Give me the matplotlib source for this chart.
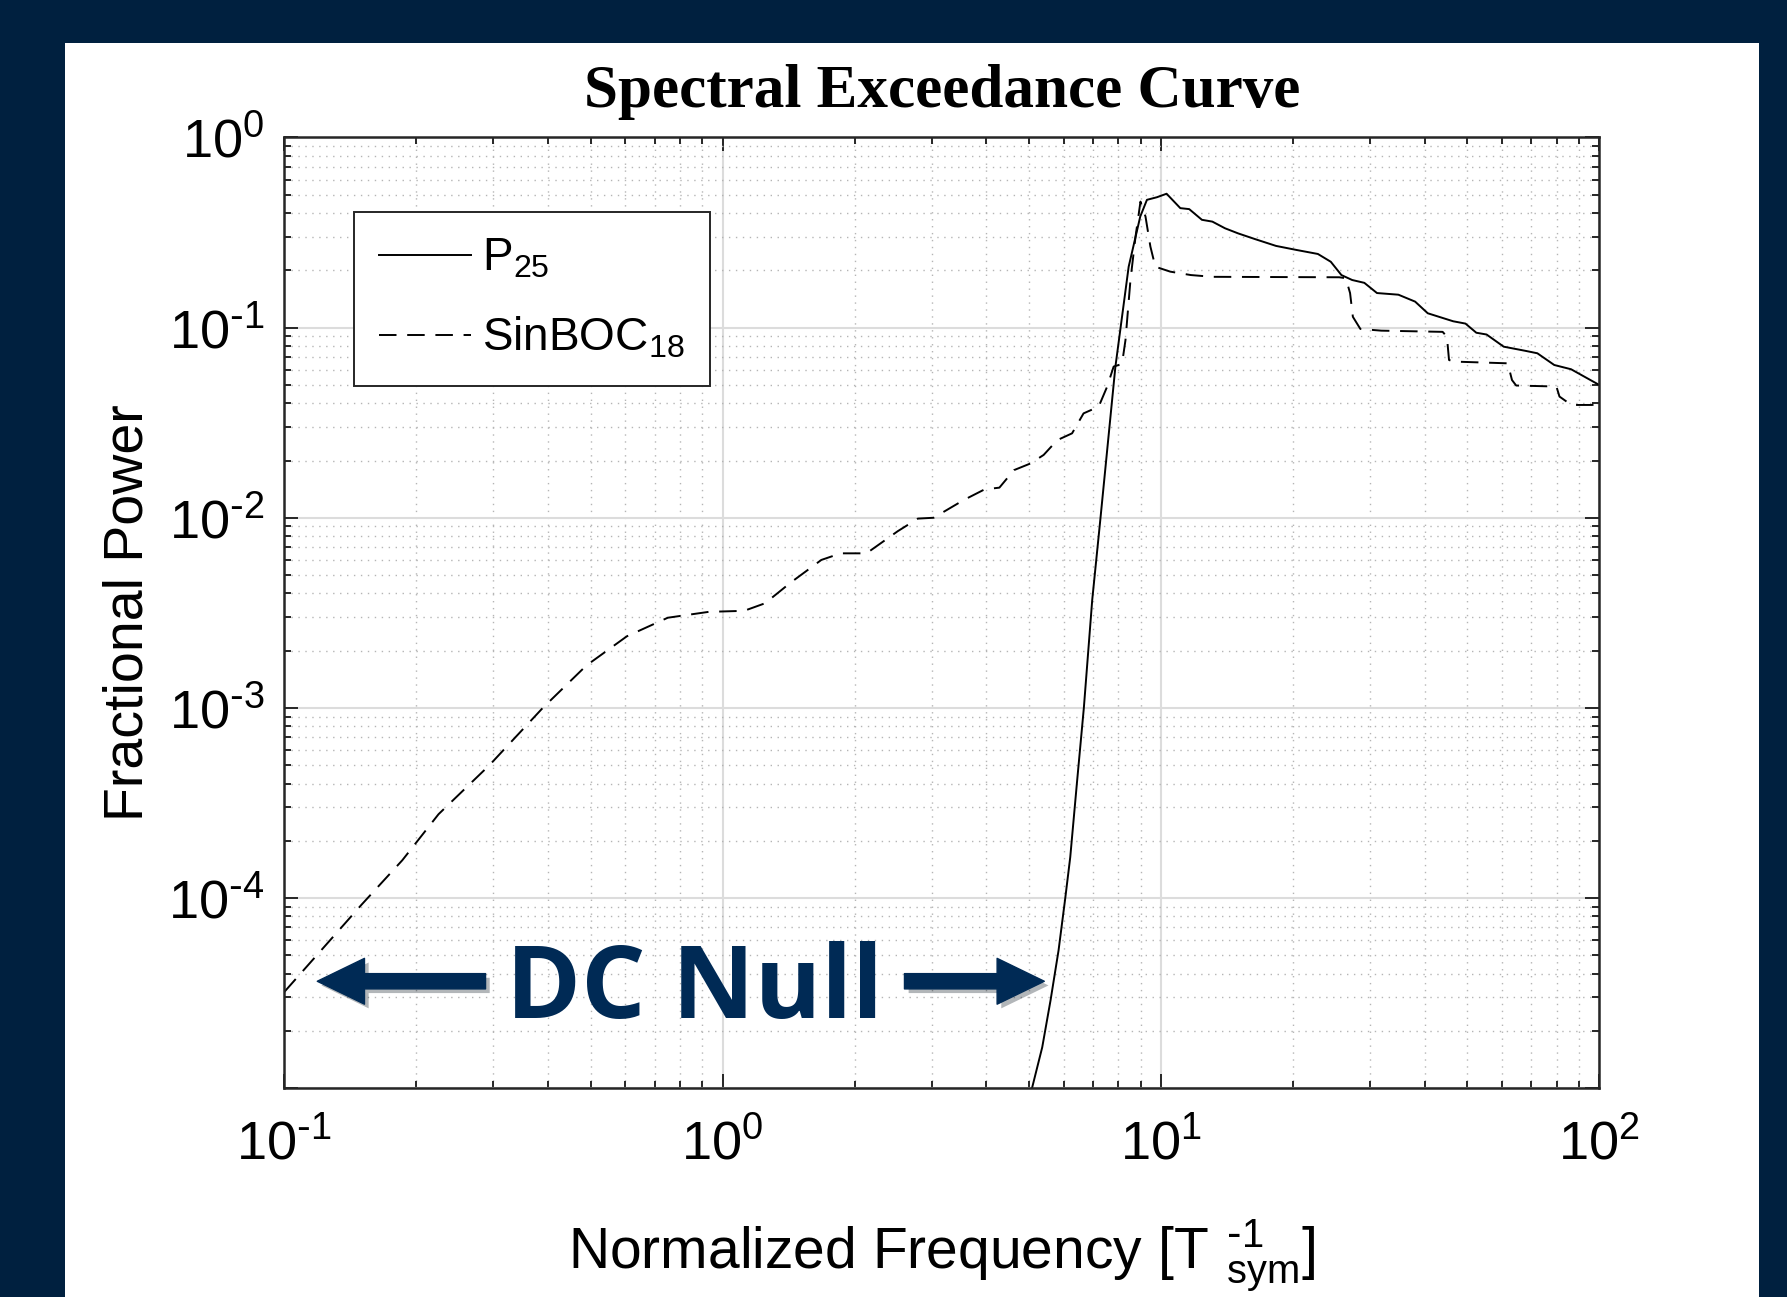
import numpy as np
import matplotlib
matplotlib.use("Agg")
import matplotlib.pyplot as plt
from matplotlib.patches import Rectangle
from matplotlib.ticker import FuncFormatter
import matplotlib.patheffects as pe

# P25 exceedance curve
p25_freq = [4.95, 5.08, 5.36, 5.60, 5.84, 6.05, 6.21, 6.43, 6.67, 6.97, 7.28, 7.87,
            8.44, 8.97, 9.29, 9.79, 10.3, 11.07, 11.6, 12.4, 13.1, 14.0, 15.0, 16.4,
            18.3, 20.4, 22.8, 24.4, 25.8, 27.3, 29.1, 31.1, 34.8, 38.0, 40.6, 46.4,
            49.5, 52.4, 55.3, 60.5, 67.6, 72.2, 78.9, 86.2, 100.0]
p25_power = [8e-6, 1.0e-5, 1.64e-5, 2.9e-5, 5.3e-5, 1.0e-4, 1.64e-4, 4.0e-4, 1.0e-3,
             3.7e-3, 1.0e-2, 6.2e-2, 0.209, 0.384, 0.47, 0.485, 0.506, 0.425, 0.42,
             0.369, 0.361, 0.333, 0.313, 0.292, 0.269, 0.256, 0.244, 0.222, 0.189,
             0.178, 0.172, 0.152, 0.149, 0.137, 0.119, 0.108, 0.105, 0.094, 0.092,
             0.0794, 0.0756, 0.0733, 0.0636, 0.0604, 0.0499]

# SinBOC18 exceedance curve
boc_freq = [0.1, 0.15, 0.186, 0.225, 0.294, 0.389, 0.489, 0.605, 0.75, 0.93, 1.12,
            1.25, 1.43, 1.68, 1.86, 2.13, 2.51, 2.79, 3.03, 3.55, 3.96, 4.28, 4.62,
            5.04, 5.40, 5.80, 6.27, 6.66, 7.21, 7.54, 7.80, 8.15, 8.30, 8.52, 8.75,
            8.98, 9.22, 9.46, 9.71, 10.5, 11.7, 13.1, 25.5, 26.4, 27.0, 27.4, 28.5,
            31.8, 43.9, 44.9, 45.4, 46.4, 61.8, 63.2, 64.6, 79.8, 81.1, 86.3, 96.3, 100.0]
boc_power = [3.2e-5, 9.2e-5, 1.58e-4, 2.76e-4, 5.0e-4, 1.0e-3, 1.67e-3, 2.38e-3,
             2.98e-3, 3.2e-3, 3.24e-3, 3.55e-3, 4.56e-3, 6.0e-3, 6.5e-3, 6.5e-3,
             8.5e-3, 9.9e-3, 1.0e-2, 1.24e-2, 1.41e-2, 1.44e-2, 1.78e-2, 1.93e-2,
             2.14e-2, 2.56e-2, 2.78e-2, 3.54e-2, 3.84e-2, 4.9e-2, 6.24e-2, 6.44e-2,
             8.6e-2, 0.178, 0.301, 0.46, 0.384, 0.267, 0.209, 0.197, 0.189, 0.185,
             0.184, 0.182, 0.152, 0.114, 0.0984, 0.0964, 0.095, 0.0897, 0.0676,
             0.0663, 0.0649, 0.053, 0.0496, 0.049, 0.0434, 0.0392, 0.0392, 0.040]

navy = '#002a55'
plt.rcParams['font.family'] = ['Liberation Sans', 'DejaVu Sans']


def pow_label(v, pos):
    e = int(round(np.log10(v)))
    if e == -5:
        return ''
    if e < 0:
        return r'$\mathdefault{10^{\text{-}%d}}$' % -e
    return r'$\mathdefault{10^{%d}}$' % e


fig = plt.figure(figsize=(17.87, 12.97), dpi=100, facecolor='#00203f')
fig.add_artist(Rectangle((65 / 1787, 0), (1759 - 65) / 1787, (1297 - 43) / 1297,
                         transform=fig.transFigure, facecolor='white',
                         edgecolor='none', zorder=-10))

ax = fig.add_axes([0.159, 0.161, 0.736, 0.733])
ax.set_xscale('log')
ax.set_yscale('log')

ax.plot(p25_freq, p25_power, color='black', lw=1.4, label=r'$\mathdefault{P_{25}}$')
ax.plot(boc_freq, boc_power, color='black', lw=1.4, ls=(0, (9, 5.5)),
        label=r'$\mathdefault{SinBOC_{18}}$')

ax.set_xlim(0.1, 100)
ax.set_ylim(1e-5, 1)
ax.xaxis.set_major_formatter(FuncFormatter(pow_label))
ax.yaxis.set_major_formatter(FuncFormatter(pow_label))

ax.grid(which='major', color='#dcdcdc', lw=1.5, ls='-')
ax.grid(which='minor', color='#b5b5b5', lw=1.0, ls=(0, (1, 4)))
ax.set_axisbelow(True)

ax.tick_params(which='both', direction='in', top=True, right=True,
               color='#262626', width=1.4)
ax.tick_params(which='major', length=10, labelsize=39, pad=14)
ax.tick_params(axis='x', which='major', pad=22)
ax.tick_params(which='minor', length=5)
for s in ax.spines.values():
    s.set_color('#262626')
    s.set_linewidth(1.8)

ax.set_title('Spectral Exceedance Curve', family='Liberation Serif',
             fontweight='bold', fontsize=44, pad=22)
ax.set_ylabel('Fractional Power', fontsize=40, labelpad=10)
ax.set_xlabel(r'Normalized Frequency [T$\mathdefault{\ ^{\text{-}1}_{sym}}$]',
              fontsize=41, labelpad=34)

leg = ax.legend(loc='upper left', bbox_to_anchor=(0.053, 0.922), borderaxespad=0,
                fontsize=33, handlelength=2.0, handletextpad=0.25, fancybox=False,
                framealpha=1, edgecolor='#262626', borderpad=0.55, labelspacing=0.75)
leg.get_frame().set_linewidth(1.4)

# DC null annotation
shadow = [pe.withSimplePatchShadow(offset=(3, -3), alpha=0.3)]
astyle = 'simple,head_length=3.4,head_width=3.3,tail_width=1.1'
a1 = ax.annotate('', xy=(0.119, 3.65e-5), xytext=(0.288, 3.65e-5),
                 arrowprops=dict(arrowstyle=astyle, mutation_scale=10, color=navy,
                                 shrinkA=0, shrinkB=0))
a2 = ax.annotate('', xy=(5.42, 3.65e-5), xytext=(2.6, 3.65e-5),
                 arrowprops=dict(arrowstyle=astyle, mutation_scale=10, color=navy,
                                 shrinkA=0, shrinkB=0))
a1.arrow_patch.set_path_effects(shadow)
a2.arrow_patch.set_path_effects(shadow)
ax.text(0.862, 2.35e-5, 'DC Null', ha='center', va='baseline', fontsize=73,
        fontweight='bold', family='Open Sans', color=navy)

fig.savefig('out.png', dpi=100, facecolor=fig.get_facecolor())
